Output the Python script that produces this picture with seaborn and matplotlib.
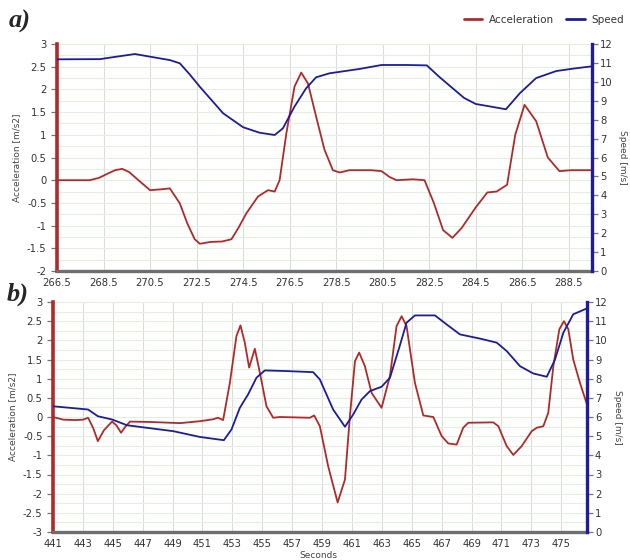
import matplotlib
matplotlib.use("Agg")
import matplotlib.pyplot as plt
from matplotlib.lines import Line2D
from matplotlib.ticker import MultipleLocator
import seaborn as sns
import pandas as pd

# ---------------- data: panel a ----------------
a_acc_t = [266.5, 267.5, 267.9, 268.3, 268.7, 269.0, 269.3, 269.6, 270.0, 270.5, 271.0,
           271.35, 271.78, 272.1, 272.42, 272.64, 273.1, 273.6, 274.0, 274.3, 274.64,
           275.14, 275.57, 275.86, 276.07, 276.36, 276.71, 277.0, 277.29, 277.64, 278.0,
           278.36, 278.65, 279.07, 280.0, 280.45, 280.8, 281.1, 281.8, 282.3, 282.7,
           283.1, 283.5, 283.9, 284.5, 285.0, 285.4, 285.85, 286.2, 286.6, 287.1, 287.6,
           288.1, 288.6, 289.5]
a_acc_v = [0.0, 0.0, 0.0, 0.05, 0.15, 0.22, 0.25, 0.18, 0.0, -0.22, -0.2,
           -0.18, -0.51, -0.95, -1.3, -1.4, -1.36, -1.35, -1.3, -1.05, -0.73,
           -0.36, -0.22, -0.25, 0.0, 1.03, 2.06, 2.37, 2.13, 1.4, 0.67,
           0.22, 0.17, 0.22, 0.22, 0.2, 0.07, 0.0, 0.02, 0.0, -0.5,
           -1.1, -1.27, -1.05, -0.6, -0.27, -0.25, -0.1, 1.0, 1.66, 1.3, 0.5,
           0.2, 0.22, 0.22]
a_spd_t = [266.5, 268.35, 269.0, 269.85, 270.5, 271.35, 271.78, 272.2, 272.64, 273.64,
           274.5, 275.21, 275.86, 276.21, 276.71, 277.21, 277.64, 278.21, 279.5, 280.45,
           281.5, 282.4, 282.9, 283.5, 284.0, 284.5, 285.2, 285.8, 286.4, 287.1, 287.96,
           288.7, 289.5]
a_spd_v = [11.19, 11.2, 11.32, 11.47, 11.33, 11.15, 10.98, 10.4, 9.74, 8.34,
           7.6, 7.31, 7.19, 7.54, 8.69, 9.66, 10.24, 10.45, 10.68, 10.89,
           10.89, 10.87, 10.3, 9.67, 9.15, 8.83, 8.68, 8.55, 9.4, 10.2, 10.57,
           10.7, 10.82]
a_xticks = [266.5, 268.5, 270.5, 272.5, 274.5, 276.5, 278.5, 280.5, 282.5, 284.5, 286.5, 288.5]
a_xtick_labels = ["266.5", "268.5", "270.5", "272.5", "274.5", "276.5", "278.5",
                  "280.5", "282.5", "284.5", "286.5", "288.5"]

# ---------------- data: panel b ----------------
b_acc_t = [441, 441.7, 442.5, 443.0, 443.35, 443.7, 444.0, 444.4, 444.95, 445.25, 445.55,
           445.85, 446.15, 447.5, 449.5, 450.82, 451.7, 452.04, 452.38, 452.83, 453.27,
           453.54, 453.83, 454.12, 454.5, 454.84, 455.28, 455.73, 456.17, 458.18, 458.47,
           458.85, 459.41, 460.04, 460.53, 460.86, 461.2, 461.48, 461.86, 462.31, 462.98,
           463.54, 463.98, 464.32, 464.65, 465.21, 465.77, 466.44, 467.0, 467.44, 468.0,
           468.44, 468.78, 470.45, 470.79, 471.35, 471.79, 472.35, 473.02, 473.36, 473.8,
           474.13, 474.47, 474.87, 475.18, 475.47, 475.8, 476.25, 476.7]
b_acc_v = [0.0, -0.07, -0.08, -0.07, -0.02, -0.3, -0.63, -0.35, -0.12, -0.22, -0.41,
           -0.25, -0.12, -0.13, -0.16, -0.11, -0.06, -0.02, -0.08, 0.89, 2.11,
           2.39, 1.94, 1.29, 1.78, 1.15, 0.28, -0.02, 0.0, -0.02, 0.04,
           -0.24, -1.29, -2.23, -1.63, 0.02, 1.46, 1.68, 1.33, 0.63, 0.24,
           1.07, 2.37, 2.63, 2.37, 0.89, 0.04, 0.0, -0.5, -0.69, -0.72,
           -0.28, -0.15, -0.14, -0.24, -0.76, -0.99, -0.76, -0.37, -0.28, -0.24,
           0.11, 1.33, 2.29, 2.5, 2.29, 1.5, 0.89, 0.35]
b_spd_t = [441, 443.35, 444.0, 444.95, 445.95, 449.05, 450.82, 452.43, 452.94, 453.5,
           454.05, 454.61, 455.17, 456.5, 458.4, 458.85, 459.74, 460.53, 461.08, 461.64,
           462.2, 462.98, 463.54, 464.16, 464.65, 465.21, 466.55, 467.33, 468.22, 469.56,
           470.68, 471.35, 472.24, 473.13, 474.03, 474.58, 475.14, 475.8, 476.7]
b_spd_v = [6.56, 6.39, 6.04, 5.87, 5.57, 5.26, 4.96, 4.79, 5.35, 6.48,
           7.18, 8.05, 8.43, 8.4, 8.34, 7.96, 6.39, 5.49, 6.13, 6.91,
           7.35, 7.58, 8.05, 9.62, 10.92, 11.3, 11.3, 10.83, 10.31, 10.09,
           9.88, 9.44, 8.65, 8.27, 8.1, 9.0, 10.4, 11.36, 11.66]
b_xticks = list(range(441, 477, 2))
b_xtick_labels = [str(v) for v in b_xticks]

series_names = ["Acceleration", "Speed"]
acc_label = "Acceleration [m/s2]"
spd_label = "Speed [m/s]"
x_label = "Seconds"

RED = "#b02a2a"
BLUE = "#1c1c9c"
GRID_V = "#dcdcdc"
GRID_H = "#e3f0dc"
TXT = "#333333"

sns.set_style("white")
plt.rcParams["font.family"] = ["DejaVu Sans"]
plt.rcParams["axes.unicode_minus"] = False
plt.rcParams["lines.solid_joinstyle"] = "round"
plt.rcParams["lines.solid_capstyle"] = "round"

fig = plt.figure(figsize=(6.3, 5.6), dpi=100)


def panel(rect, acc_t, acc_v, spd_t, spd_v, xlim, ylim, xticks, xlabels):
    ax = fig.add_axes(rect)
    ax2 = ax.twinx()
    df_a = pd.DataFrame({"t": acc_t, "v": acc_v})
    df_s = pd.DataFrame({"t": spd_t, "v": spd_v})
    sns.lineplot(data=df_a, x="t", y="v", ax=ax, color=RED, linewidth=1.3, zorder=3)
    sns.lineplot(data=df_s, x="t", y="v", ax=ax2, color=BLUE, linewidth=1.3, zorder=3)
    ax.set_xlim(*xlim)
    ax.set_ylim(*ylim)
    ax2.set_ylim(0, 12)
    ax.set_xticks(xticks)
    ax.set_xticklabels(xlabels)
    ax.yaxis.set_major_locator(MultipleLocator(0.5))
    ax.yaxis.set_minor_locator(MultipleLocator(0.25))
    ax2.yaxis.set_major_locator(MultipleLocator(1))
    ax.set_yticklabels([("%g" % v) for v in ax.get_yticks()])
    ax.grid(True, which="major", axis="x", color=GRID_V, linewidth=0.8)
    ax.grid(True, which="both", axis="y", color=GRID_H, linewidth=0.8)
    ax.set_axisbelow(True)
    for a in (ax, ax2):
        for s in a.spines.values():
            s.set_visible(False)
    ax.spines["left"].set_visible(True)
    ax.spines["left"].set_color(RED)
    ax.spines["left"].set_linewidth(2.6)
    ax.spines["bottom"].set_visible(True)
    ax.spines["bottom"].set_color("#6e6e6e")
    ax.spines["bottom"].set_linewidth(2.4)
    ax2.spines["right"].set_visible(True)
    ax2.spines["right"].set_color(BLUE)
    ax2.spines["right"].set_linewidth(2.4)
    ax.tick_params(axis="both", which="major", labelsize=7.2, colors="#777777",
                   labelcolor=TXT, length=4, width=0.9, direction="out")
    ax.tick_params(axis="y", which="minor", length=0)
    ax.tick_params(axis="x", length=3, pad=2)
    ax2.tick_params(axis="y", labelsize=7.2, colors="#777777", labelcolor=TXT,
                    length=4, width=0.9, direction="out", pad=2)
    ax.set_xlabel("")
    ax.set_ylabel(acc_label, fontsize=6.5, color="#444444", labelpad=4)
    ax2.set_ylabel(spd_label, fontsize=6.5, color="#444444", rotation=270, labelpad=10)
    return ax, ax2


panel([57 / 630, 1 - 271 / 560, (592 - 57) / 630, (271 - 44) / 560],
      a_acc_t, a_acc_v, a_spd_t, a_spd_v, (266.5, 289.5), (-2, 3),
      a_xticks, a_xtick_labels)
panel([53 / 630, 1 - 532 / 560, (586.7 - 53) / 630, (532 - 302) / 560],
      b_acc_t, b_acc_v, b_spd_t, b_spd_v, (441, 476.7), (-3, 3),
      b_xticks, b_xtick_labels)

fig.text(9 / 630, 1 - 21 / 560, "a)", fontsize=19, fontweight="bold", fontstyle="italic",
         family="Liberation Serif", va="center", ha="left")
fig.text(7 / 630, 1 - 294 / 560, "b)", fontsize=19, fontweight="bold", fontstyle="italic",
         family="Liberation Serif", va="center", ha="left")
fig.text(0.505, 0.0, x_label, fontsize=6.5, color="#444444", ha="center", va="bottom")

handles = [Line2D([0], [0], color=RED, lw=2), Line2D([0], [0], color=BLUE, lw=2)]
fig.legend(handles, series_names, loc="upper right", bbox_to_anchor=(1.005, 0.99),
           ncol=2, frameon=False, fontsize=7.5, handlelength=1.8, columnspacing=1.2,
           handletextpad=0.6, labelcolor="#333333")

fig.savefig("out.png", dpi=100)
